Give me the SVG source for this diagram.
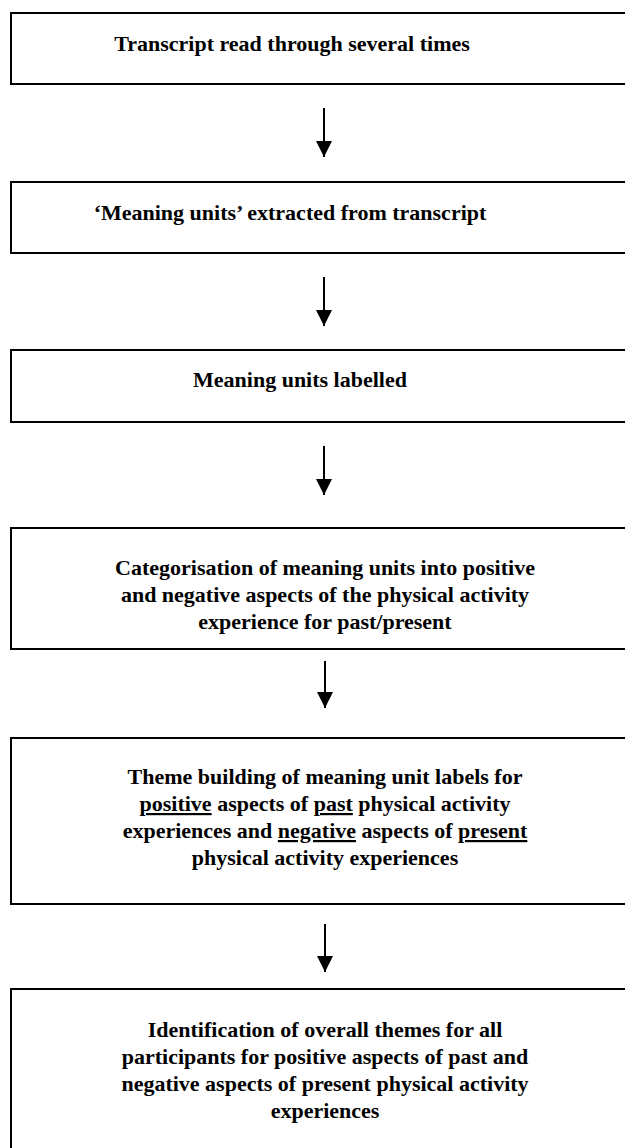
<svg xmlns="http://www.w3.org/2000/svg" width="625" height="1148" viewBox="0 0 625 1148">
  <style>
    .box { fill: #ffffff; stroke: #000000; stroke-width: 2; }
    .label { font-family: "Liberation Serif", "Times New Roman", serif; font-weight: bold; font-size: 22px; fill: #000000; text-anchor: middle; }
    .u { text-decoration: underline; }
    .link { stroke: #000000; stroke-width: 2; fill: none; marker-end: url(#head); }
  </style>
  <defs>
    <marker id="head" viewBox="0 0 16 16" refX="16" refY="8" markerWidth="16" markerHeight="16" markerUnits="userSpaceOnUse" orient="auto">
      <path d="M0,0 L16,8 L0,16 Z" fill="#000000"/>
    </marker>
  </defs>
  <rect width="625" height="1148" fill="#ffffff"/>

  <g id="step1">
    <rect class="box" x="11" y="13" width="640" height="71"/>
    <text class="label" x="292" y="51">Transcript read through several times</text>
  </g>

  <g id="step2">
    <rect class="box" x="11" y="182" width="640" height="71"/>
    <text class="label" x="290" y="220">‘Meaning units’ extracted from transcript</text>
  </g>

  <g id="step3">
    <rect class="box" x="11" y="350" width="640" height="72"/>
    <text class="label" x="300" y="387">Meaning units labelled</text>
  </g>

  <g id="step4">
    <rect class="box" x="11" y="528" width="640" height="121"/>
    <text class="label" x="325" y="575">Categorisation of meaning units into positive</text>
    <text class="label" x="325" y="602">and negative aspects of the physical activity</text>
    <text class="label" x="325" y="629">experience for past/present</text>
  </g>

  <g id="step5">
    <rect class="box" x="11" y="738" width="640" height="166"/>
    <text class="label" x="325" y="784">Theme building of meaning unit labels for</text>
    <text class="label" x="325" y="811"><tspan class="u">positive</tspan> aspects of <tspan class="u">past</tspan> physical activity</text>
    <text class="label" x="325" y="838">experiences and <tspan class="u">negative</tspan> aspects of <tspan class="u">present</tspan></text>
    <text class="label" x="325" y="865">physical activity experiences</text>
  </g>

  <g id="step6">
    <rect class="box" x="11" y="989" width="640" height="180"/>
    <text class="label" x="325" y="1037">Identification of overall themes for all</text>
    <text class="label" x="325" y="1064">participants for positive aspects of past and</text>
    <text class="label" x="325" y="1091">negative aspects of present physical activity</text>
    <text class="label" x="325" y="1118">experiences</text>
  </g>

  <g id="connectors">
    <line class="link" x1="324" y1="108" x2="324" y2="157"/>
    <line class="link" x1="324" y1="277" x2="324" y2="326"/>
    <line class="link" x1="324" y1="446" x2="324" y2="495"/>
    <line class="link" x1="325" y1="661" x2="325" y2="708"/>
    <line class="link" x1="325" y1="924" x2="325" y2="972"/>
  </g>
</svg>
